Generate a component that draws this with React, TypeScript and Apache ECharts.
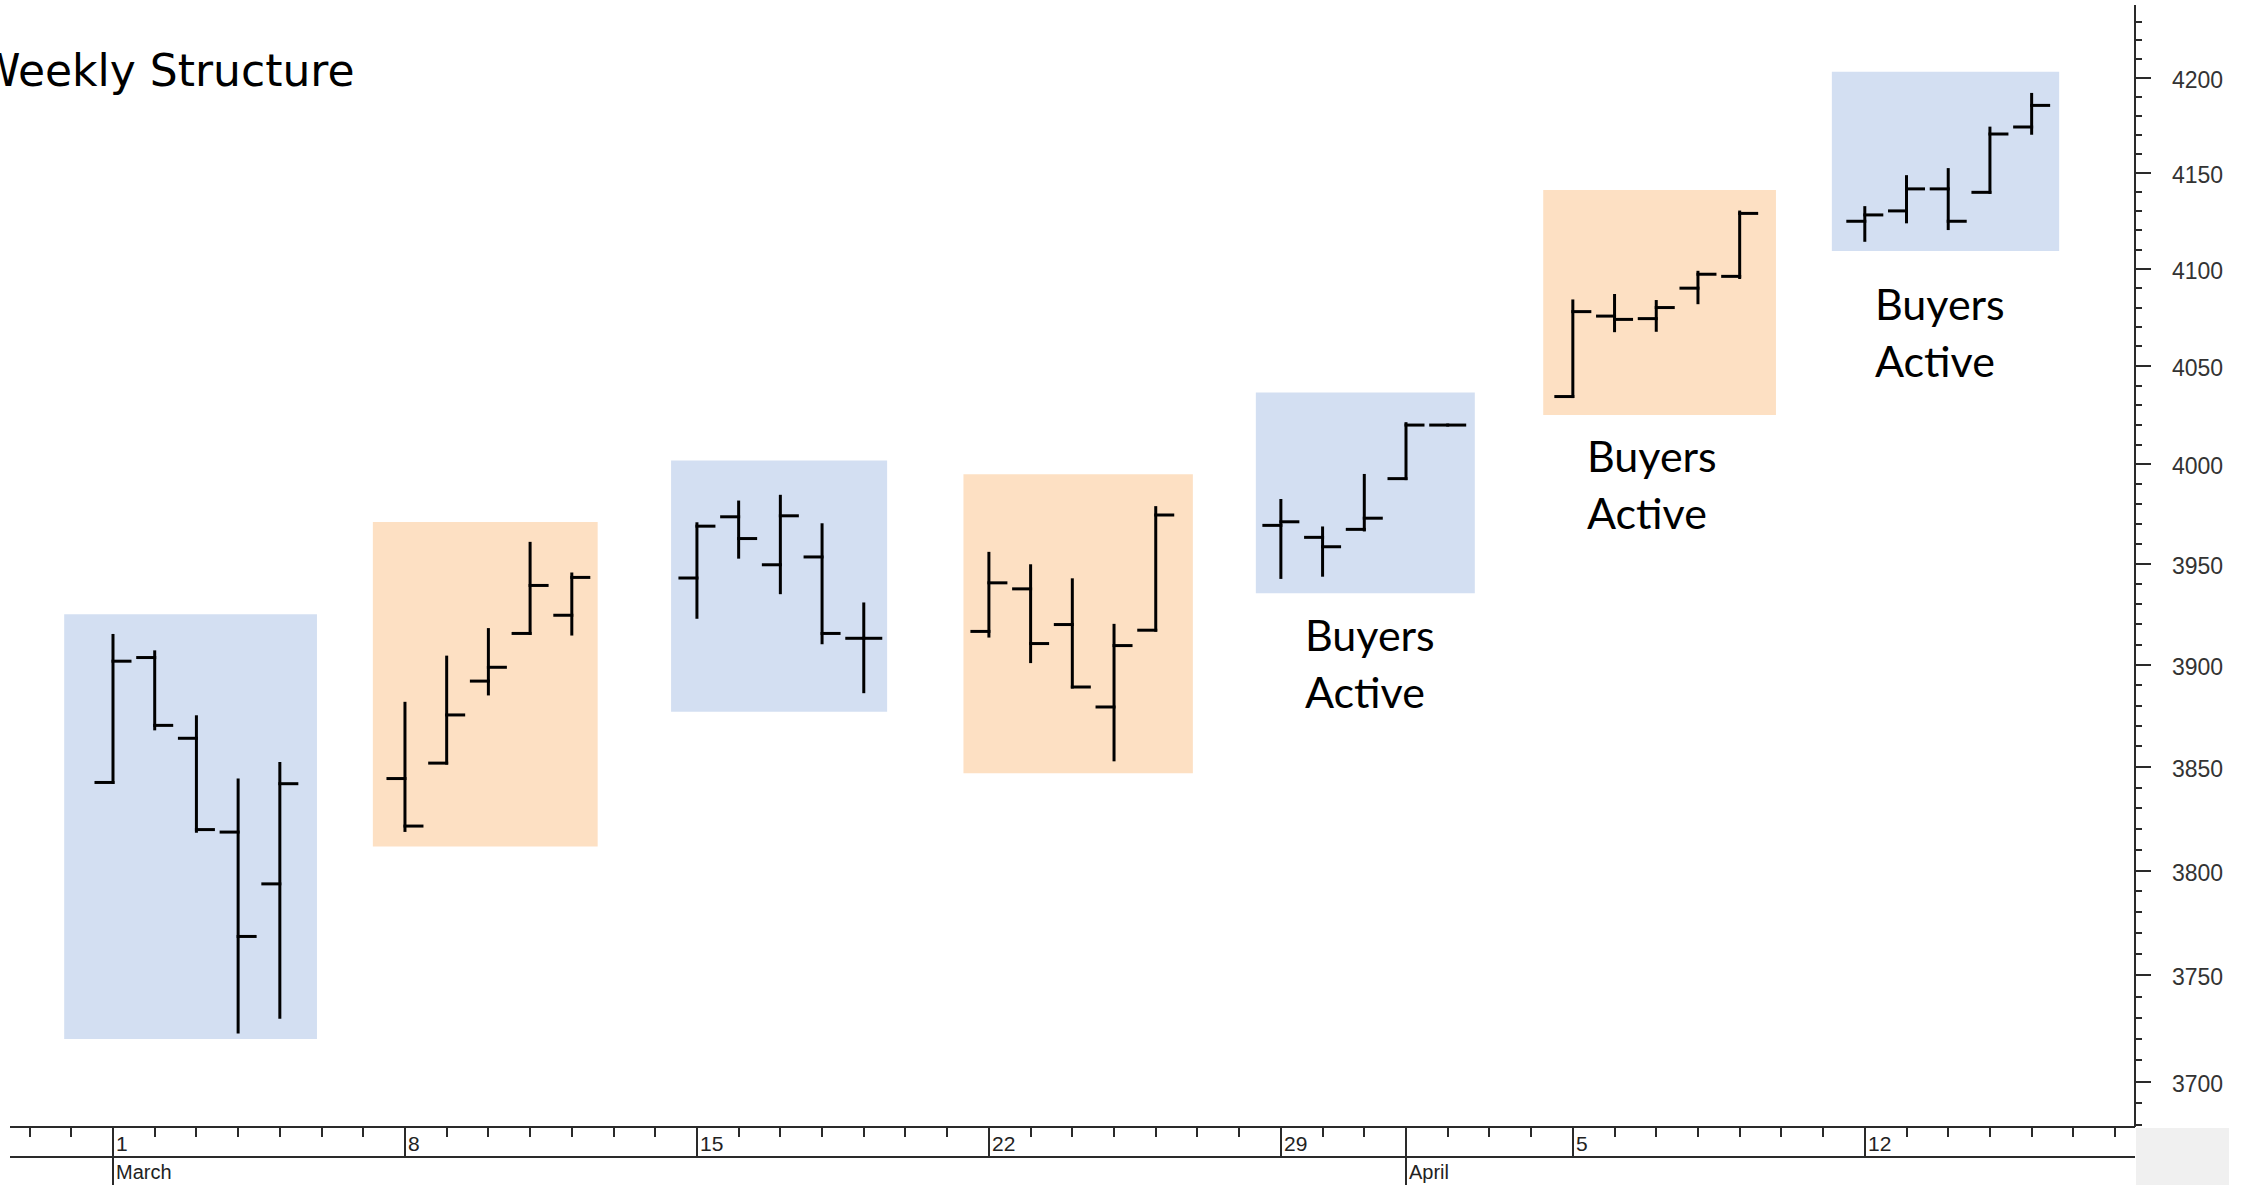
import React, { useEffect, useRef } from 'react';
import * as echarts from 'echarts';

// ---------- data (S&P-style daily OHLC) ----------
const DATES = [
  '2021-03-01', '2021-03-02', '2021-03-03', '2021-03-04', '2021-03-05',
  '2021-03-08', '2021-03-09', '2021-03-10', '2021-03-11', '2021-03-12',
  '2021-03-15', '2021-03-16', '2021-03-17', '2021-03-18', '2021-03-19',
  '2021-03-22', '2021-03-23', '2021-03-24', '2021-03-25', '2021-03-26',
  '2021-03-29', '2021-03-30', '2021-03-31', '2021-04-01', '2021-04-02',
  '2021-04-05', '2021-04-06', '2021-04-07', '2021-04-08', '2021-04-09',
  '2021-04-12', '2021-04-13', '2021-04-14', '2021-04-15', '2021-04-16',
];
const OPEN = [
  3842.5, 3903.6, 3864.0, 3818.5, 3793.6,
  3844.4, 3851.9, 3892.0, 3915.5, 3924.5,
  3943.0, 3973.6, 3949.6, 3953.5, 3913.1,
  3916.5, 3937.6, 3919.9, 3879.3, 3917.1,
  3969.3, 3963.3, 3967.3, 3992.8, 4019.9,
  4034.4, 4075.6, 4074.3, 4090.0, 4096.1,
  4124.7, 4130.1, 4141.6, 4139.8, 4174.1,
];
const HIGH = [
  3914.5, 3906.4, 3874.5, 3843.7, 3851.7,
  3881.1, 3903.8, 3917.4, 3960.3, 3945.0,
  3970.1, 3981.0, 3983.9, 3969.6, 3930.1,
  3955.3, 3949.1, 3942.1, 3919.5, 3978.2,
  3981.8, 3968.0, 3994.4, 4020.6, 4019.9,
  4083.4, 4086.2, 4083.1, 4098.2, 4129.5,
  4131.8, 4148.0, 4151.7, 4173.5, 4191.3,
];
const LOW = [
  3842.5, 3868.6, 3818.9, 3723.3, 3730.2,
  3819.3, 3851.9, 3885.7, 3915.5, 3915.2,
  3923.5, 3953.4, 3935.7, 3910.9, 3886.8,
  3914.2, 3901.6, 3889.1, 3853.5, 3917.1,
  3943.3, 3944.4, 3967.0, 3992.8, 4019.9,
  4034.4, 4068.1, 4068.3, 4082.5, 4095.5,
  4114.8, 4124.4, 4120.9, 4139.8, 4170.8,
];
const CLOSE = [
  3901.8, 3870.3, 3819.7, 3768.5, 3841.9,
  3821.4, 3875.4, 3898.8, 3939.3, 3943.3,
  3968.9, 3962.7, 3974.1, 3915.5, 3913.1,
  3940.6, 3910.5, 3889.1, 3909.5, 3974.5,
  3971.1, 3958.6, 3972.9, 4019.9, 4019.9,
  4077.9, 4073.9, 4080.0, 4097.2, 4128.8,
  4128.0, 4141.6, 4124.7, 4170.4, 4185.5,
];

// highlighted weekly boxes (x in days from 1 March, y in index points)
const BOX_FROM_DAY = [-1.17, 6.23, 13.38, 20.39, 27.4, 34.29, 41.21];
const BOX_TO_DAY = [4.89, 11.62, 18.56, 25.89, 32.65, 39.87, 46.66];
const BOX_HIGH = [3925, 3971, 4002, 3995, 4036.4, 4141, 4203.3];
const BOX_LOW = [3720, 3811.5, 3877, 3847, 3935.4, 4025, 4109.3];

// axis labels
const Y_LABELS = [3700, 3750, 3800, 3850, 3900, 3950, 4000, 4050, 4100, 4150, 4200];
const WEEK_STARTS = ['2021-03-01', '2021-03-08', '2021-03-15', '2021-03-22', '2021-03-29', '2021-04-05', '2021-04-12'];
const WEEK_LABELS = ['1', '8', '15', '22', '29', '5', '12'];
const MONTH_STARTS = ['2021-03-01', '2021-04-01'];
const MONTH_LABELS = ['March', 'April'];

const TITLE = 'Weekly Structure';
const NOTE_LINES = ['Buyers', 'Active'];

// ---------- scales ----------
const ORIGIN = Date.parse('2021-03-01T00:00:00Z');
const dayOf = (s: string) => Math.round((Date.parse(s + 'T00:00:00Z') - ORIGIN) / 86400000);
const X_MIN = -2.4694;
const X_MAX = 48.478;
const Y_MIN = 3678.9;
const Y_MAX = 4238.9;
const L = (v: number) => Math.log(v);

const INK = '#000';
const AXIS = '#2a2a2a';
const BLUE = '#d3dff2';
const ORANGE = '#fde0c3';

function buildOption() {
  const ohlc = DATES.map((d, i) => [dayOf(d), L(OPEN[i]), L(HIGH[i]), L(LOW[i]), L(CLOSE[i])]);
  const boxes = BOX_FROM_DAY.map((f, i) => [f, BOX_TO_DAY[i], L(BOX_HIGH[i]), L(BOX_LOW[i]), i]);

  const yTicks: number[][] = [];
  for (let v = 3680; v <= 4230; v += 10) yTicks.push([X_MAX, L(v), v]);

  const weekDays = WEEK_STARTS.map(dayOf);
  const monthDays = MONTH_STARTS.map(dayOf);
  const xTicks: number[][] = [];
  for (let d = Math.ceil(X_MIN); d <= Math.floor(X_MAX); d++) xTicks.push([d, L(Y_MIN)]);

  const TICK = 17;

  return {
    animation: false,
    backgroundColor: '#ffffff',
    grid: { left: 10, right: 2246 - 2135, top: 5, bottom: 1185 - 1127, containLabel: false },
    xAxis: { type: 'value', min: X_MIN, max: X_MAX, show: false },
    yAxis: { type: 'value', min: L(Y_MIN), max: L(Y_MAX), show: false, scale: true },
    graphic: [
      {
        type: 'text', x: -23, y: 70, silent: true,
        style: { text: TITLE, fill: INK, fontSize: 44, fontFamily: 'DejaVu Sans', align: 'left', verticalAlign: 'middle' },
      },
      ...[[1305, 634.6], [1587, 455.5], [1875, 303.7]].flatMap(([x, y]) =>
        NOTE_LINES.map((t, k) => ({
          type: 'text', x, y: y + k * 57, silent: true,
          style: { text: t, fill: INK, fontSize: 43, fontFamily: 'Lato', align: 'left', verticalAlign: 'middle' },
        }))
      ),
    ],
    series: [
      {
        type: 'custom', name: 'boxes', z: 1, silent: true, clip: false,
        data: boxes,
        renderItem: (params: any, api: any) => {
          const p1 = api.coord([api.value(0), api.value(2)]);
          const p2 = api.coord([api.value(1), api.value(3)]);
          return {
            type: 'rect',
            shape: { x: p1[0], y: p1[1], width: p2[0] - p1[0], height: p2[1] - p1[1] },
            style: { fill: api.value(4) % 2 === 0 ? BLUE : ORANGE },
          };
        },
      },
      {
        type: 'custom', name: 'OHLC', z: 3, silent: true, clip: false,
        data: ohlc,
        encode: { x: 0, y: [1, 2, 3, 4] },
        renderItem: (params: any, api: any) => {
          const x = api.value(0);
          const o = api.coord([x, api.value(1)]);
          const h = api.coord([x, api.value(2)]);
          const l = api.coord([x, api.value(3)]);
          const c = api.coord([x, api.value(4)]);
          const st = { stroke: INK, lineWidth: 3, lineCap: 'square' };
          const children: any[] = [
            { type: 'line', shape: { x1: o[0] - TICK, y1: o[1], x2: o[0], y2: o[1] }, style: st },
            { type: 'line', shape: { x1: c[0], y1: c[1], x2: c[0] + TICK, y2: c[1] }, style: st },
          ];
          if (Math.abs(h[1] - l[1]) > 0.5) {
            children.push({ type: 'line', shape: { x1: h[0], y1: h[1], x2: l[0], y2: l[1] }, style: st });
          }
          return { type: 'group', children };
        },
      },
      {
        type: 'custom', name: 'yAxisDecor', z: 4, silent: true, clip: false,
        data: yTicks,
        renderItem: (params: any, api: any) => {
          const v = api.value(2);
          const p = api.coord([api.value(0), api.value(1)]);
          const major = Y_LABELS.indexOf(v) >= 0;
          const y = Math.round(p[1]);
          const children: any[] = [
            { type: 'line', shape: { x1: p[0], y1: y, x2: p[0] + (major ? 16 : 7), y2: y }, style: { stroke: AXIS, lineWidth: 2 } },
          ];
          if (major) {
            children.push({
              type: 'text', x: p[0] + 37, y: y + 2,
              style: { text: String(v), fill: '#333', fontSize: 23, fontFamily: 'Liberation Sans', align: 'left', verticalAlign: 'middle' },
            });
          }
          return { type: 'group', children };
        },
      },
      {
        type: 'custom', name: 'xAxisDecor', z: 4, silent: true, clip: false,
        data: xTicks,
        renderItem: (params: any, api: any) => {
          const d = api.value(0);
          const p = api.coord([d, api.value(1)]);
          const x = Math.round(p[0]);
          const yb = p[1];
          const wi = weekDays.indexOf(d);
          const mi = monthDays.indexOf(d);
          const st = { stroke: AXIS, lineWidth: 2 };
          const children: any[] = [];
          if (mi >= 0) {
            children.push({ type: 'line', shape: { x1: x, y1: yb, x2: x, y2: yb + 60 }, style: st });
            children.push({
              type: 'text', x: x + 3, y: yb + 45,
              style: { text: MONTH_LABELS[mi], fill: '#222', fontSize: 20, fontFamily: 'Liberation Sans', align: 'left', verticalAlign: 'middle' },
            });
          } else if (wi >= 0) {
            children.push({ type: 'line', shape: { x1: x, y1: yb, x2: x, y2: yb + 30 }, style: st });
          } else {
            children.push({ type: 'line', shape: { x1: x, y1: yb, x2: x, y2: yb + 10 }, style: st });
          }
          if (wi >= 0) {
            children.push({
              type: 'text', x: x + 3, y: yb + 16,
              style: { text: WEEK_LABELS[wi], fill: '#222', fontSize: 21, fontFamily: 'Liberation Sans', align: 'left', verticalAlign: 'middle' },
            });
          }
          return { type: 'group', children };
        },
      },
      {
        type: 'custom', name: 'frame', z: 5, silent: true, clip: false,
        data: [[X_MIN, L(Y_MIN)]],
        renderItem: (params: any, api: any) => {
          const cs = params.coordSys;
          const left = cs.x;
          const right = cs.x + cs.width;
          const top = cs.y;
          const bottom = cs.y + cs.height;
          const st = { stroke: AXIS, lineWidth: 2 };
          return {
            type: 'group',
            children: [
              { type: 'rect', shape: { x: right + 1, y: bottom + 1, width: 93, height: 60 }, style: { fill: '#f0f0f0' } },
              { type: 'line', shape: { x1: left, y1: bottom, x2: right, y2: bottom }, style: st },
              { type: 'line', shape: { x1: left, y1: bottom + 30, x2: right, y2: bottom + 30 }, style: st },
              { type: 'line', shape: { x1: right, y1: top, x2: right, y2: bottom }, style: st },
            ],
          };
        },
      },
    ],
  };
}

export default function App() {
  const ref = useRef<HTMLDivElement>(null);
  useEffect(() => {
    const chart = echarts.init(ref.current as HTMLDivElement, null, { renderer: 'svg' });
    chart.setOption(buildOption() as any);
    return () => chart.dispose();
  }, []);
  return (
    <div
      ref={ref}
      style={{ position: 'fixed', left: 0, top: 0, width: 2246, height: 1185, background: '#fff' }}
    />
  );
}
